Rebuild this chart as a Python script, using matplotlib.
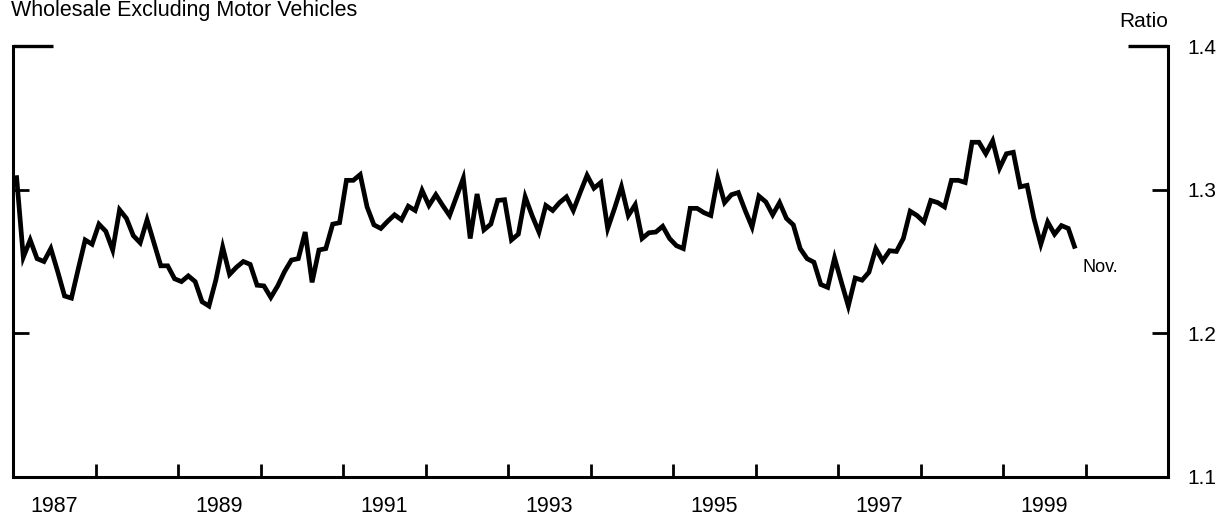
import matplotlib
matplotlib.use("Agg")
import matplotlib.pyplot as plt
import numpy as np

plt.rcParams['font.family'] = ['Liberation Sans', 'DejaVu Sans']

# Monthly inventory-to-sales ratio, Jan 1987 - Nov 1999
start_year = 1987
ratio = [
    1.310, 1.253, 1.265, 1.252, 1.250, 1.259, 1.243, 1.226, 1.2245, 1.245, 1.265, 1.262,   # 1987
    1.276, 1.271, 1.258, 1.286, 1.280, 1.268, 1.263, 1.279, 1.263, 1.247, 1.247, 1.238,    # 1988
    1.236, 1.240, 1.236, 1.222, 1.219, 1.237, 1.260, 1.241, 1.246, 1.250, 1.248, 1.2335,   # 1989
    1.233, 1.225, 1.233, 1.243, 1.251, 1.252, 1.2705, 1.2355, 1.258, 1.259, 1.276, 1.277,  # 1990
    1.3065, 1.3065, 1.3105, 1.288, 1.2755, 1.273, 1.278, 1.2825, 1.279, 1.2885, 1.2855, 1.2995,  # 1991
    1.289, 1.2965, 1.289, 1.282, 1.295, 1.308, 1.266, 1.297, 1.272, 1.276, 1.2925, 1.293,  # 1992
    1.265, 1.269, 1.295, 1.282, 1.2705, 1.289, 1.2855, 1.291, 1.295, 1.2855, 1.298, 1.310, # 1993
    1.301, 1.305, 1.273, 1.287, 1.302, 1.282, 1.2895, 1.266, 1.270, 1.2705, 1.2745, 1.266, # 1994
    1.261, 1.259, 1.287, 1.287, 1.284, 1.282, 1.308, 1.291, 1.2965, 1.298, 1.2855, 1.274,  # 1995
    1.2955, 1.2915, 1.2825, 1.291, 1.280, 1.2755, 1.259, 1.252, 1.2495, 1.234, 1.232, 1.2525,  # 1996
    1.2355, 1.219, 1.2385, 1.237, 1.2425, 1.259, 1.2505, 1.2575, 1.257, 1.266, 1.285, 1.282,   # 1997
    1.2775, 1.2925, 1.291, 1.288, 1.3065, 1.3065, 1.305, 1.333, 1.333, 1.325, 1.334, 1.315,    # 1998
    1.325, 1.326, 1.302, 1.303, 1.280, 1.262, 1.2775, 1.269, 1.275, 1.273, 1.259,              # 1999
]

year_labels = [1987, 1989, 1991, 1993, 1995, 1997, 1999]
y_ticks = [1.1, 1.2, 1.3, 1.4]
y_tick_labels = ["1.1", "1.2", "1.3", "1.4"]
title = "Wholesale Excluding Motor Vehicles"
unit_label = "Ratio"
last_label = "Nov."

W, H = 1229, 518
fig = plt.figure(figsize=(W / 100, H / 100), dpi=100)
ax = fig.add_axes([13 / W, 1 - 477 / H, (1168 - 13) / W, (477 - 46) / H])

months = np.arange(len(ratio))
x = start_year + (months + 0.5) / 12.0
ax.plot(x, ratio, color="black", lw=3.4, solid_joinstyle="miter", solid_capstyle="butt")

ax.set_xlim(1987, 2001)
ax.set_ylim(1.1, 1.4)

# Frame: left, right and bottom spines; top edge only as corner brackets
ax.spines['top'].set_visible(False)
for side in ('left', 'right', 'bottom'):
    ax.spines[side].set_linewidth(2.2)

# x axis: inward ticks at year boundaries, labels centred within the year
ax.set_xticks(np.arange(1988, 2001))
ax.set_xticklabels([])
ax.set_xticks([y + 0.5 for y in year_labels], minor=True)
ax.set_xticklabels([str(y) for y in year_labels], minor=True)
ax.tick_params(axis='x', which='major', direction='in', length=9.5, width=2.0)
ax.tick_params(axis='x', which='minor', length=0, pad=14, labelsize=15.5)

# y axis: inward ticks on both sides, labels at right
ax.set_yticks(y_ticks)
ax.set_yticklabels(y_tick_labels)
ax.tick_params(axis='y', which='major', direction='in', length=11.5, width=2.0,
               left=True, right=True, labelleft=False, labelright=True,
               pad=14, labelsize=15)
top_tick = ax.yaxis.get_major_ticks()[-1]
top_tick.tick1line.set_markersize(29)
top_tick.tick2line.set_markersize(29)
top_tick.tick1line.set_markeredgewidth(2.4)
top_tick.tick2line.set_markeredgewidth(2.4)

ax.annotate(last_label, xy=(x[-1], ratio[-1]), xytext=(7, -19),
            textcoords='offset pixels', ha='left', va='center', fontsize=13)

fig.text(11 / W, 1 - 16 / H, title, ha='left', va='baseline', fontsize=15.5)
fig.text(1168 / W, 1 - 27 / H, unit_label, ha='right', va='baseline', fontsize=15)

fig.savefig("out.png", dpi=100)
